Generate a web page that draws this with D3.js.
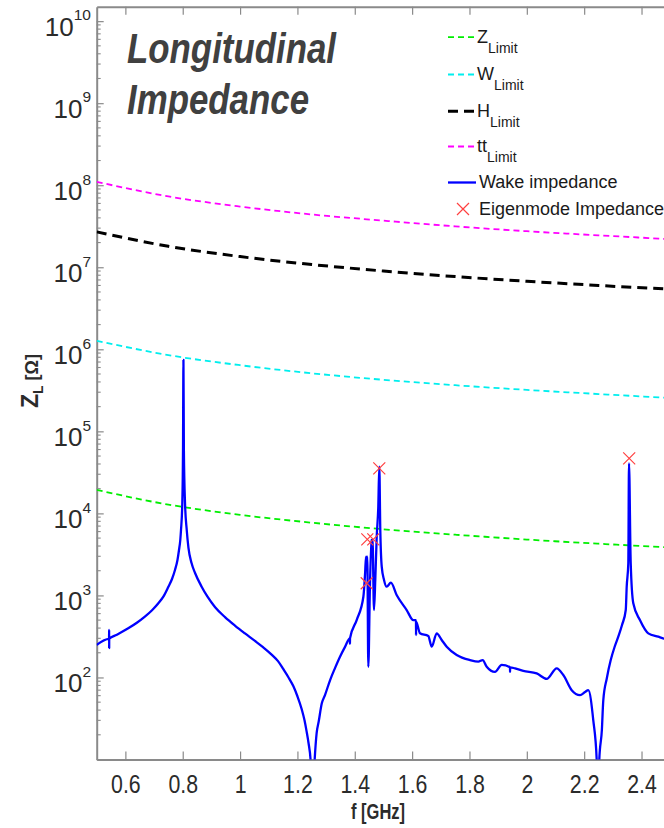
<!DOCTYPE html>
<html><head><meta charset="utf-8">
<script src="https://cdn.jsdelivr.net/npm/d3@7/dist/d3.min.js"></script>
<style>
html,body{margin:0;padding:0;background:#fff;overflow:hidden}
svg{display:block}
text{font-family:"Liberation Sans", Arial, Helvetica, sans-serif}
</style></head><body>
<svg id="chart" width="664" height="828"></svg>
<script>
// ---------------- DATA ----------------
const limitFreq = [0.5, 0.75, 1.0, 1.25, 1.5, 1.75, 2.0, 2.25, 2.5];
const zLimit  = [1.93e4, 1.28e4, 9.6e3, 7.7e3, 6.4e3, 5.5e3, 4.8e3, 4.27e3, 3.85e3];
const wLimit  = [1.27e6, 8.5e5, 6.4e5, 5.1e5, 4.25e5, 3.65e5, 3.2e5, 2.85e5, 2.55e5];
const hLimit  = [2.7e7, 1.8e7, 1.35e7, 1.08e7, 9.0e6, 7.7e6, 6.75e6, 6.0e6, 5.4e6];
const ttLimit = [1.1e8, 7.3e7, 5.5e7, 4.4e7, 3.7e7, 3.15e7, 2.75e7, 2.45e7, 2.2e7];

const wakeFreq = [0.500, 0.543, 0.5432, 0.5433, 0.5435, 0.5436, 0.564, 0.610, 0.640, 0.668, 0.693, 0.715,
  0.733, 0.750, 0.7626, 0.773, 0.7817, 0.787, 0.7915, 0.794, 0.7985, 0.801, 0.8025, 0.804, 0.808,
  0.814, 0.820, 0.831, 0.843, 0.866, 0.8864, 0.913, 0.9474, 0.982, 1.0172, 1.052, 1.080, 1.110,
  1.1323, 1.151, 1.169, 1.186, 1.200, 1.215, 1.2247, 1.232, 1.2386, 1.246, 1.253, 1.260, 1.267,
  1.2742, 1.285, 1.2961, 1.314, 1.331, 1.3485, 1.366, 1.383, 1.3832, 1.3834, 1.4066,
  1.430, 1.436, 1.4391, 1.4405, 1.4437, 1.4472, 1.4531, 1.459, 1.462, 1.467, 1.4715, 1.4765, 1.482,
  1.4855, 1.489, 1.494, 1.502, 1.511, 1.526, 1.546, 1.581, 1.604, 1.6135, 1.6137, 1.6139, 1.6275,
  1.6564, 1.6683, 1.6857, 1.7031, 1.7206, 1.7554, 1.8019, 1.8308, 1.8461, 1.8601, 1.889, 1.9124,
  1.9413, 1.9415, 1.9417, 1.9588, 1.9877, 2.0344, 2.0693, 2.1042, 2.1272, 2.1565, 2.1855, 2.203,
  2.2144, 2.2318, 2.2437, 2.248, 2.2527, 2.2617, 2.2667, 2.279, 2.2926, 2.306, 2.319, 2.332, 2.345,
  2.3483, 2.3539, 2.3563, 2.3623, 2.3713, 2.3944, 2.4236, 2.4584, 2.478, 2.500];
const wakeZ = [249, 296, 296, 380, 228, 296, 324, 397, 464, 551, 660, 802,
  975, 1277, 1585, 2042, 2700, 3580, 4740, 6270, 13300, 60000, 741000, 60000, 13300,
  6270, 3790, 2466, 1875, 1277, 964, 718, 544, 429, 344, 279, 234, 190,
  158, 126, 100, 78, 59, 41, 30, 22, 16, 9.8, 3, 9.8, 21,
  29, 48.4, 61, 93, 130, 179, 236, 300, 258, 300, 501,
  964, 1862, 2965, 2400, 2965, 135, 1406, 4740, 4800, 664, 1543, 5200, 12050,
  37100, 6270, 2240, 1543, 1277, 1429, 1012, 664, 501, 501, 329, 480, 345,
  320, 237, 345, 286, 237, 188, 163, 156, 163, 135, 117, 142,
  133, 117, 133, 129, 120, 112, 96, 129, 107, 70, 61, 66.5,
  70, 30, 9.9, 3, 9.9, 22.9, 53, 98, 163, 235, 314, 436, 664,
  1277, 2466, 40700, 2466, 802, 501, 345, 314, 298, 290];

const eigenFreq = [1.4416, 1.4437, 1.4646, 1.4855, 2.357];
const eigenZ    = [1406, 4830, 4830, 35400, 46900];

const xTickValues = [0.6, 0.8, 1.0, 1.2, 1.4, 1.6, 1.8, 2.0, 2.2, 2.4];
const yTickExponents = [2, 3, 4, 5, 6, 7, 8, 9, 10];

const legendLabels = [
  {main: "Z", sub: "Limit"},
  {main: "W", sub: "Limit"},
  {main: "H", sub: "Limit"},
  {main: "tt", sub: "Limit"},
  {main: "Wake impedance", sub: ""},
  {main: "Eigenmode Impedance", sub: ""}
];
const titleLines = ["Longitudinal", "Impedance"];

// ---------------- LAYOUT ----------------
const plot = {left: 96.7, right: 670.2, top: 6.7, bottom: 759.5};
const svg = d3.select("#chart");
const x = d3.scaleLinear().domain([0.5, 2.5]).range([plot.left, plot.right]);
const y = d3.scaleLog().domain([10, 1.5e10]).range([plot.bottom, plot.top]);

const axisColor = "#8a8a8a";
const labelColor = "#2b2b2b";

svg.append("defs").append("clipPath").attr("id", "clip")
  .append("rect").attr("x", plot.left).attr("y", plot.top)
  .attr("width", plot.right - plot.left).attr("height", plot.bottom - plot.top);

// ---------------- AXES ----------------
const fmtX = d => String(+d.toFixed(1));
const gx = svg.append("g").attr("transform", `translate(0,${plot.bottom})`)
  .call(d3.axisBottom(x).tickValues(xTickValues).tickSizeInner(-8).tickSizeOuter(0).tickFormat(fmtX));
gx.select(".domain").attr("stroke", axisColor).attr("stroke-width", 2);
gx.selectAll(".tick line").attr("stroke", axisColor).attr("stroke-width", 1.2);
gx.selectAll(".tick text").attr("y", 33.5).attr("dy", 0)
  .attr("font-size", 26).attr("fill", labelColor)
  .attr("font-family", '"Liberation Sans", Arial, sans-serif')
  .attr("transform", "scale(0.82,1)");

const gxt = svg.append("g").attr("transform", `translate(0,${plot.top})`)
  .call(d3.axisTop(x).tickValues(xTickValues).tickSizeInner(-8).tickSizeOuter(0).tickFormat(""));
gxt.select(".domain").attr("stroke", axisColor).attr("stroke-width", 2);
gxt.selectAll(".tick line").attr("stroke", axisColor).attr("stroke-width", 1.2);

const majorVals = yTickExponents.map(e => Math.pow(10, e));
const gy = svg.append("g").attr("transform", `translate(${plot.left},0)`)
  .call(d3.axisLeft(y).tickValues([10].concat(majorVals)).tickSizeInner(-7).tickSizeOuter(0).tickFormat(""));
gy.select(".domain").attr("stroke", axisColor).attr("stroke-width", 2);
gy.selectAll(".tick line").attr("stroke", axisColor).attr("stroke-width", 1.2);

// minor ticks
const minorVals = [];
for (let e = 1; e <= 10; e++) for (let k = 2; k <= 9; k++) {
  const v = k * Math.pow(10, e);
  if (v < 1.5e10) minorVals.push(v);
}
svg.append("g").selectAll("line").data(minorVals).join("line")
  .attr("x1", plot.left).attr("x2", plot.left + 4)
  .attr("y1", d => y(d)).attr("y2", d => y(d))
  .attr("stroke", axisColor).attr("stroke-width", 1.1);

// y tick labels 10^n
const yl = svg.append("g").selectAll("text").data(yTickExponents).join("text")
  .attr("x", 91).attr("y", d => y(Math.pow(10, d)) + 15)
  .attr("text-anchor", "end").attr("fill", labelColor);
yl.append("tspan").attr("font-size", 26).text("10");
yl.append("tspan").attr("font-size", 15.5).attr("dy", -15.7).text(d => d);

// axis titles
const ylab = svg.append("text")
  .attr("transform", "translate(38,381) rotate(-90)")
  .attr("text-anchor", "middle").attr("font-weight", "bold").attr("fill", labelColor);
ylab.append("tspan").attr("font-size", 23).text("Z");
ylab.append("tspan").attr("font-size", 14).attr("dy", 5).text("L");
ylab.append("tspan").attr("font-size", 18).attr("dy", -5).text(" [\u03A9]");

svg.append("text").attr("transform", "translate(378,819) scale(0.75,1)")
  .attr("text-anchor", "middle").attr("font-weight", "bold")
  .attr("font-size", 22).attr("fill", labelColor).text("f [GHz]");

// ---------------- DATA LINES ----------------
const gData = svg.append("g").attr("clip-path", "url(#clip)");
const limitLine = d3.line().x(d => x(d[0])).y(d => y(d[1])).curve(d3.curveMonotoneX);
const limits = [
  {vals: zLimit, color: "#00ee00", width: 1.8, dash: "6,4"},
  {vals: wLimit, color: "#00eeee", width: 1.8, dash: "6,4"},
  {vals: hLimit, color: "#000000", width: 3, dash: "10,6"},
  {vals: ttLimit, color: "#ff00ff", width: 1.8, dash: "6,4"}
];
limits.forEach(l => {
  gData.append("path").datum(limitFreq.map((f, i) => [f, l.vals[i]]))
    .attr("d", limitLine).attr("fill", "none")
    .attr("stroke", l.color).attr("stroke-width", l.width).attr("stroke-dasharray", l.dash);
});

const wakeLine = d3.line().x(d => x(d[0])).y(d => y(d[1])).curve(d3.curveMonotoneX);
gData.append("path").datum(wakeFreq.map((f, i) => [f, wakeZ[i]]))
  .attr("d", wakeLine).attr("fill", "none")
  .attr("stroke", "#0000ff").attr("stroke-width", 2.3).attr("stroke-linejoin", "round");

const xMark = (cx, cy, s) => `M${cx - s},${cy - s}L${cx + s},${cy + s}M${cx - s},${cy + s}L${cx + s},${cy - s}`;
gData.selectAll("path.eig").data(eigenFreq.map((f, i) => [f, eigenZ[i]])).join("path")
  .attr("class", "eig")
  .attr("d", d => xMark(x(d[0]), y(d[1]), 6))
  .attr("stroke", "#ff4040").attr("stroke-width", 1.2).attr("fill", "none");

// ---------------- TITLE ----------------
titleLines.forEach((t, i) => {
  svg.append("text")
    .attr("transform", `translate(127,${63 + i * 51}) scale(0.83,1)`)
    .attr("font-size", 42).attr("font-weight", "bold").attr("font-style", "italic")
    .attr("fill", "#404040").text(t);
});

// ---------------- LEGEND ----------------
const legBase = [42.7, 80, 116.7, 152, 188, 215];
const legStyles = [
  {type: "line", color: "#00ee00", width: 1.8, dash: "6,4"},
  {type: "line", color: "#00eeee", width: 1.8, dash: "6,4"},
  {type: "line", color: "#000000", width: 3, dash: "10,6"},
  {type: "line", color: "#ff00ff", width: 1.8, dash: "6,4"},
  {type: "line", color: "#0000ff", width: 2.3, dash: null},
  {type: "x", color: "#ff4040"}
];
const gLeg = svg.append("g");
legendLabels.forEach((lab, i) => {
  const base = legBase[i];
  const st = legStyles[i];
  if (st.type === "line") {
    const ln = gLeg.append("line").attr("x1", 448).attr("x2", 476)
      .attr("y1", base - 5.5).attr("y2", base - 5.5)
      .attr("stroke", st.color).attr("stroke-width", st.width);
    if (st.dash) ln.attr("stroke-dasharray", st.dash);
  } else {
    gLeg.append("path").attr("d", xMark(463, base - 6, 6))
      .attr("stroke", st.color).attr("stroke-width", 1.2).attr("fill", "none");
  }
  const t = gLeg.append("text").attr("x", i >= 4 ? 479 : 477).attr("y", base)
    .attr("font-size", 18).attr("fill", "#1a1a1a");
  t.append("tspan").text(lab.main);
  if (lab.sub) t.append("tspan").attr("font-size", 14).attr("dy", 10).text(lab.sub);
});
</script>
</body></html>
